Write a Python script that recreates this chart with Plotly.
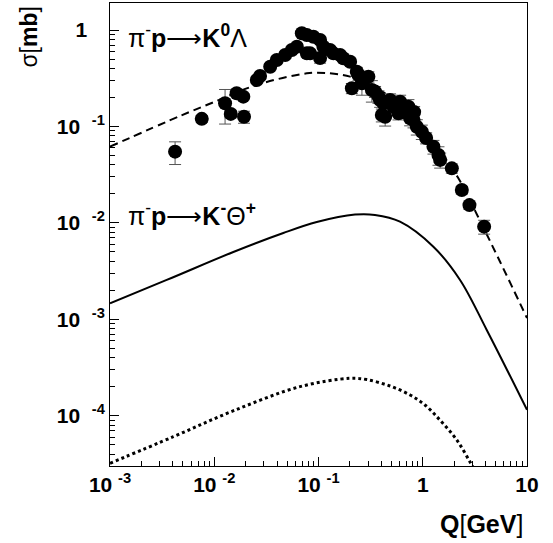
import plotly.graph_objects as go

# ---- data: pi- p -> K0 Lambda (measured points) ----
k0_q = [0.00421, 0.00759, 0.0127, 0.0144, 0.0164, 0.0190, 0.0193, 0.0256, 0.0275, 0.0344,
        0.0398, 0.0479, 0.0555, 0.0620, 0.0692, 0.0773, 0.0894, 0.1035, 0.1114, 0.129,
        0.0773, 0.1035, 0.083, 0.139, 0.161, 0.173, 0.201, 0.233, 0.242, 0.301,
        0.209, 0.261, 0.325, 0.349, 0.376, 0.390, 0.405, 0.420, 0.436, 0.486,
        0.524, 0.607, 0.585, 0.664, 0.729, 0.757, 0.815, 0.827, 0.877, 0.980,
        1.078, 1.267, 1.415, 1.469, 1.901, 2.371, 2.805, 3.88]
k0_sigma = [0.0548, 0.120, 0.174, 0.135, 0.221, 0.204, 0.126, 0.304, 0.334, 0.417,
            0.490, 0.552, 0.622, 0.673, 0.927, 0.890, 0.854, 0.789, 0.673, 0.622,
            0.574, 0.514, 0.574, 0.574, 0.552, 0.510, 0.470, 0.370, 0.342, 0.329,
            0.249, 0.281, 0.239, 0.230, 0.204, 0.188, 0.1315, 0.174, 0.126, 0.188,
            0.160, 0.181, 0.137, 0.141, 0.160, 0.1216, 0.1167, 0.141, 0.0995, 0.0883,
            0.076, 0.0617, 0.0506, 0.045, 0.0368, 0.0219, 0.0153, 0.00914]
k0_err = [0.0145, 0.010, 0.068, 0.012, 0.015, 0.015, 0.018, 0.020, 0.020, 0.030,
          0.030, 0.040, 0.040, 0.050, 0.060, 0.060, 0.060, 0.060, 0.050, 0.050,
          0.050, 0.060, 0.050, 0.050, 0.050, 0.040, 0.040, 0.040, 0.040, 0.040,
          0.030, 0.070, 0.060, 0.030, 0.030, 0.030, 0.020, 0.030, 0.025, 0.030,
          0.030, 0.030, 0.020, 0.020, 0.030, 0.020, 0.020, 0.020, 0.018, 0.015,
          0.010, 0.010, 0.011, 0.008, 0.004, 0.002, 0.0015, 0.0015]

# ---- model curve for K0 Lambda (dashed) ----
dash_q = [0.001, 0.0047, 0.0098, 0.0256, 0.0773, 0.1156, 0.201, 0.390, 0.757, 1.315, 2.19, 3.40, 5.53, 10.0]
dash_sigma = [0.0617, 0.1286, 0.178, 0.270, 0.356, 0.359, 0.329, 0.239, 0.1316, 0.0643, 0.0292, 0.0115, 0.00393, 0.00103]

# ---- pi- p -> K- Theta+ (solid) ----
solid_q = [0.001, 0.0035, 0.01524, 0.0460, 0.0962, 0.224, 0.348, 0.605, 1.265, 2.28, 4.11, 10.0]
solid_sigma = [1.466e-3, 2.56e-3, 4.99e-3, 7.85e-3, 1.02e-2, 1.22e-2, 1.21e-2, 1.03e-2, 5.66e-3, 2.56e-3, 7.75e-4, 1.15e-4]

# ---- lower curve (dotted) ----
dot_q = [0.001, 0.00405, 0.01514, 0.0665, 0.2004, 0.290, 0.485, 0.755, 1.051, 1.462, 2.12, 2.95, 3.54]
dot_sigma = [3.21e-5, 6.05e-5, 1.12e-4, 2.0e-4, 2.44e-4, 2.37e-4, 2.03e-4, 1.64e-4, 1.29e-4, 9.0e-5, 5.6e-5, 3.08e-5, 2.15e-5]

x_tickvals = [0.001, 0.01, 0.1, 1, 10]
x_ticktext = ["10\u00a0<sup>-3</sup>", "10\u00a0<sup>-2</sup>", "10\u00a0<sup>-1</sup>", "1", "10"]
y_tickvals = [1e-4, 1e-3, 1e-2, 1e-1, 1]
y_ticktext = ["10\u00a0\u00a0<sup>-4</sup>", "10\u00a0\u00a0<sup>-3</sup>", "10\u00a0\u00a0<sup>-2</sup>",
              "10\u00a0\u00a0<sup>-1</sup>", "1\u00a0\u00a0\u00a0"]

FONT = "Liberation Sans, Arial, sans-serif"

fig = go.Figure()
fig.add_trace(go.Scatter(x=dash_q, y=dash_sigma, mode="lines",
                         line=dict(color="black", width=2, dash="8px,5px", shape="spline", smoothing=1.0)))
fig.add_trace(go.Scatter(x=solid_q, y=solid_sigma, mode="lines",
                         line=dict(color="black", width=2, shape="spline", smoothing=1.0)))
fig.add_trace(go.Scatter(x=dot_q, y=dot_sigma, mode="lines",
                         line=dict(color="black", width=3, dash="3px,3px", shape="spline", smoothing=1.0)))
fig.add_trace(go.Scatter(x=k0_q, y=k0_sigma, mode="markers",
                         marker=dict(color="black", size=14, symbol="circle"),
                         error_y=dict(type="data", array=k0_err, visible=True,
                                      color="#555555", thickness=1, width=6)))

axis_common = dict(
    type="log", showgrid=False, zeroline=False, showline=True, linecolor="black", linewidth=1,
    mirror=True, ticks="inside", ticklen=9, tickwidth=1, tickcolor="black",
    minor=dict(ticks="inside", ticklen=5, tickwidth=1, tickcolor="black", dtick="D1", showgrid=False),
    tickfont=dict(family=FONT, size=21, color="black", weight="bold"),
)

fig.update_xaxes(range=[-3, 1], tickmode="array", tickvals=x_tickvals, ticktext=x_ticktext, **axis_common)
fig.update_yaxes(range=[-4.522, 0.281], tickmode="array", tickvals=y_tickvals, ticktext=y_ticktext, **axis_common)

L, R, T, B = 110, 26, 3, 77
W, H = 553, 543
pw, ph = W - L - R, H - T - B

def px(xp):
    return (xp - L) / pw

def py(yp):
    return (H - B - yp) / ph

annos = [
    dict(text="π<sup>-</sup><b>p</b>⟶<b>K<sup>0</sup></b>Λ", x=px(126), y=py(36),
         xanchor="left", yanchor="middle", font=dict(family=FONT, size=25, color="black")),
    dict(text="π<sup>-</sup><b>p</b>⟶<b>K<sup>-</sup></b>Θ<sup><b>+</b></sup>", x=px(126), y=py(214),
         xanchor="left", yanchor="middle", font=dict(family=FONT, size=25, color="black")),
    dict(text="σ[<b>mb</b>]", x=px(28.6), y=py(37), textangle=-90,
         xanchor="center", yanchor="middle", font=dict(family=FONT, size=23, color="black")),
    dict(text="<b>Q</b>[<b>GeV</b>]", x=px(525), y=py(524),
         xanchor="right", yanchor="middle", font=dict(family=FONT, size=25, color="black")),
]
for a in annos:
    a.update(xref="paper", yref="paper", showarrow=False)

fig.update_layout(
    width=W, height=H, margin=dict(l=L, r=R, t=T, b=B),
    paper_bgcolor="white", plot_bgcolor="white", showlegend=False,
    annotations=annos,
)

fig.write_html("out.html")
